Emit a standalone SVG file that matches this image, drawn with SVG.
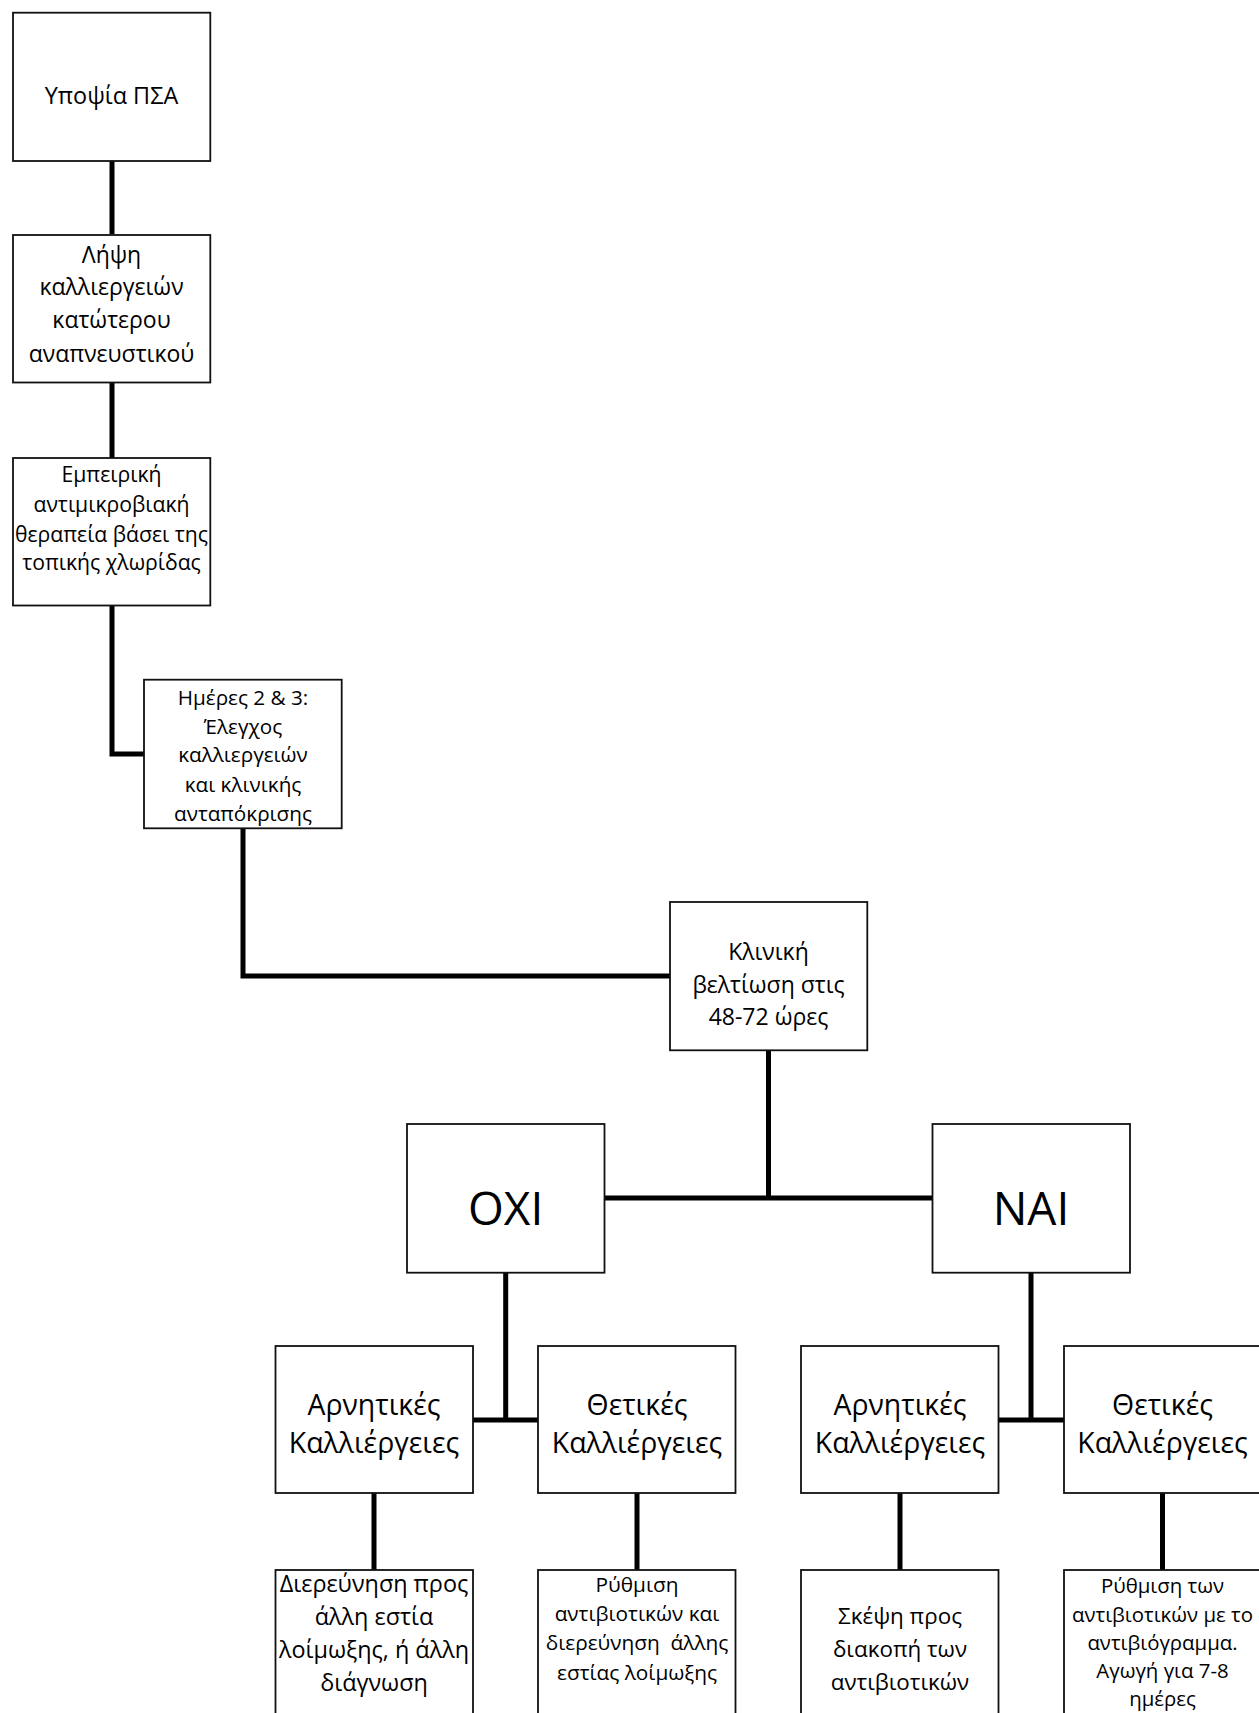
<svg xmlns="http://www.w3.org/2000/svg" width="1259" height="1713" viewBox="0 0 1259 1713">
<style>
.box{fill:#fff;stroke:#111;stroke-width:1.8}
.t{font-family:"Open Sans","Noto Sans","DejaVu Sans",sans-serif;fill:#000;text-anchor:middle}
.c{fill:none;stroke:#000;stroke-width:5;stroke-linejoin:miter}
</style>
<rect width="1259" height="1713" fill="#fff"/>
<g id="connectors">
<line class="c" x1="112" y1="161" x2="112" y2="234"/>
<line class="c" x1="112" y1="382" x2="112" y2="458"/>
<polyline class="c" points="112,605 112,754 144,754"/>
<polyline class="c" points="243,828 243,976 670,976"/>
<line class="c" x1="768.5" y1="1050" x2="768.5" y2="1198"/>
<line class="c" x1="604.5" y1="1198" x2="932.5" y2="1198"/>
<line class="c" x1="505.7" y1="1273" x2="505.7" y2="1420"/>
<line class="c" x1="473" y1="1420" x2="538" y2="1420"/>
<line class="c" x1="1031" y1="1273" x2="1031" y2="1420"/>
<line class="c" x1="999" y1="1420" x2="1064" y2="1420"/>
<line class="c" x1="374" y1="1493" x2="374" y2="1570"/>
<line class="c" x1="637" y1="1493" x2="637" y2="1570"/>
<line class="c" x1="900" y1="1493" x2="900" y2="1570"/>
<line class="c" x1="1162.5" y1="1493" x2="1162.5" y2="1570"/>
</g>
<g id="n1">
<rect class="box" x="13" y="12.7" width="197.3" height="148.3"/>
<text class="t" x="111.5" y="104" font-size="23.4">Υποψία ΠΣΑ</text>
</g>
<g id="n2">
<rect class="box" x="13" y="235" width="197.3" height="147.5"/>
<text class="t" font-size="23"><tspan x="111.5" y="263">Λήψη</tspan><tspan x="111.5" y="295">καλλιεργειών</tspan><tspan x="111.5" y="328">κατώτερου</tspan><tspan x="111.5" y="362">αναπνευστικού</tspan></text>
</g>
<g id="n3">
<rect class="box" x="13" y="458" width="197.3" height="147.5"/>
<text class="t" font-size="21.2"><tspan x="111.5" y="482">Εμπειρική</tspan><tspan x="111.5" y="512">αντιμικροβιακή</tspan><tspan x="111.5" y="541.5">θεραπεία βάσει της</tspan><tspan x="111.5" y="570">τοπικής χλωρίδας</tspan></text>
</g>
<g id="n4">
<rect class="box" x="144" y="679.7" width="197.7" height="148.6"/>
<text class="t" font-size="20.7"><tspan x="243" y="705">Ημέρες 2 &amp; 3:</tspan><tspan x="243" y="734">Έλεγχος</tspan><tspan x="243" y="762">καλλιεργειών</tspan><tspan x="243" y="792">και κλινικής</tspan><tspan x="243" y="821">ανταπόκρισης</tspan></text>
</g>
<g id="n5">
<rect class="box" x="670" y="902" width="197.3" height="148.3"/>
<text class="t" font-size="23"><tspan x="768.5" y="960">Κλινική</tspan><tspan x="768.5" y="993">βελτίωση στις</tspan><tspan x="768.5" y="1025">48-72 ώρες</tspan></text>
</g>
<g id="n6">
<rect class="box" x="407" y="1124" width="197.5" height="148.7"/>
<text class="t" x="505.7" y="1225" font-size="46">ΟΧΙ</text>
</g>
<g id="n7">
<rect class="box" x="932.5" y="1124" width="197.5" height="148.7"/>
<text class="t" x="1031" y="1225" font-size="46">ΝΑΙ</text>
</g>
<g id="n8">
<rect class="box" x="275.5" y="1346" width="197.5" height="147"/>
<text class="t" font-size="28.4"><tspan x="374" y="1415">Αρνητικές</tspan><tspan x="374" y="1453">Καλλιέργειες</tspan></text>
</g>
<g id="n9">
<rect class="box" x="538" y="1346" width="197.5" height="147"/>
<text class="t" font-size="28.4"><tspan x="637" y="1415">Θετικές</tspan><tspan x="637" y="1453">Καλλιέργειες</tspan></text>
</g>
<g id="n10">
<rect class="box" x="801" y="1346" width="197.5" height="147"/>
<text class="t" font-size="28.4"><tspan x="900" y="1415">Αρνητικές</tspan><tspan x="900" y="1453">Καλλιέργειες</tspan></text>
</g>
<g id="n11">
<rect class="box" x="1064" y="1346" width="197.5" height="147"/>
<text class="t" font-size="28.4"><tspan x="1162.5" y="1415">Θετικές</tspan><tspan x="1162.5" y="1453">Καλλιέργειες</tspan></text>
</g>
<g id="n12">
<rect class="box" x="275.5" y="1570" width="197.5" height="148"/>
<text class="t" font-size="23.4"><tspan x="374" y="1592">Διερεύνηση προς</tspan><tspan x="374" y="1625">άλλη εστία</tspan><tspan x="374" y="1658">λοίμωξης, ή άλλη</tspan><tspan x="374" y="1691">διάγνωση</tspan></text>
</g>
<g id="n13">
<rect class="box" x="538" y="1570" width="197.5" height="148"/>
<text class="t" font-size="20.8" style="white-space:pre"><tspan x="637" y="1592">Ρύθμιση</tspan><tspan x="637" y="1621">αντιβιοτικών και</tspan><tspan x="637" y="1650">διερεύνηση  άλλης</tspan><tspan x="637" y="1680">εστίας λοίμωξης</tspan></text>
</g>
<g id="n14">
<rect class="box" x="801" y="1570" width="197.5" height="148"/>
<text class="t" font-size="22.4"><tspan x="900" y="1624">Σκέψη προς</tspan><tspan x="900" y="1657">διακοπή των</tspan><tspan x="900" y="1690">αντιβιοτικών</tspan></text>
</g>
<g id="n15">
<rect class="box" x="1064" y="1570" width="197.5" height="148"/>
<text class="t" font-size="20.4"><tspan x="1162.5" y="1593">Ρύθμιση των</tspan><tspan x="1162.5" y="1621.5">αντιβιοτικών με το</tspan><tspan x="1162.5" y="1650">αντιβιόγραμμα.</tspan><tspan x="1162.5" y="1678">Αγωγή για 7-8</tspan><tspan x="1162.5" y="1706">ημέρες</tspan></text>
</g>
</svg>
